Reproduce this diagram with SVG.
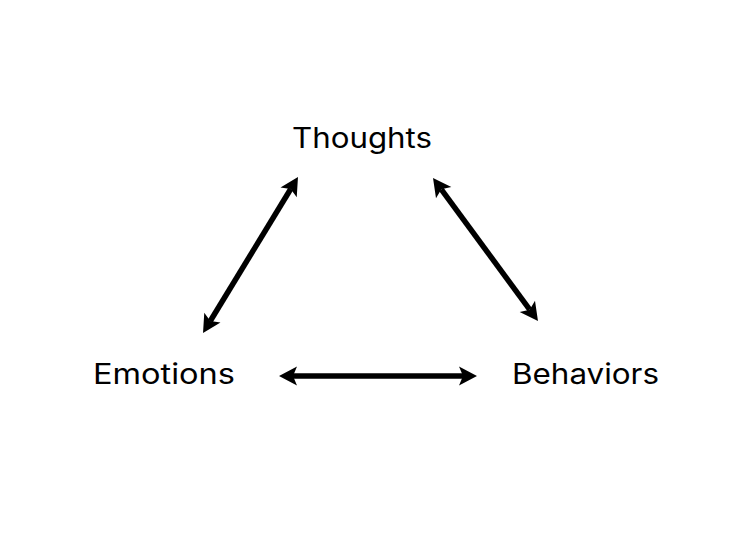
<svg xmlns="http://www.w3.org/2000/svg" width="732" height="554" viewBox="0 0 732 554">
<style>
text{font-family:Inter,"Liberation Sans",sans-serif;font-size:28px;font-weight:400;fill:#000}
.c{stroke:#000;stroke-width:5.5;fill:none;marker-start:url(#ah);marker-end:url(#ah)}
</style>
<defs>
<marker id="ah" markerUnits="userSpaceOnUse" markerWidth="20" markerHeight="20" viewBox="0 0 20 20" refX="4" refY="10" orient="auto-start-reverse" overflow="visible">
<path d="M0,0.5 L18,10 L0,19.5 L4,10 Z" fill="#000"/>
</marker>
</defs>
<rect width="732" height="554" fill="#fff"/>
<g id="connectors">
<line class="c" x1="210.3" y1="321" x2="290.7" y2="189"/>
<line class="c" x1="441.3" y1="189.3" x2="529.7" y2="309.7"/>
<line class="c" x1="293" y1="376" x2="463" y2="376"/>
</g>
<g id="thoughts"><text x="292" y="148" textLength="140" lengthAdjust="spacingAndGlyphs">Thoughts</text></g>
<g id="emotions"><text x="93" y="384" textLength="142" lengthAdjust="spacingAndGlyphs">Emotions</text></g>
<g id="behaviors"><text x="512" y="384" textLength="147" lengthAdjust="spacingAndGlyphs">Behaviors</text></g>
</svg>
